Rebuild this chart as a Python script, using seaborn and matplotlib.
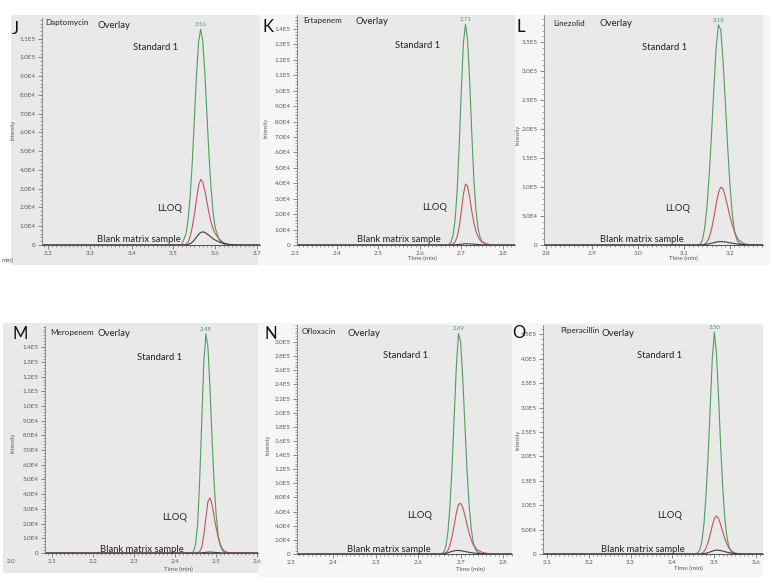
import numpy as np
import pandas as pd
import matplotlib
matplotlib.use("Agg")
import matplotlib.pyplot as plt
import seaborn as sns
from matplotlib.ticker import MultipleLocator, FixedLocator, FuncFormatter, AutoMinorLocator
from matplotlib.patches import Rectangle

# ---------------- data ----------------
j_time = [3.18, 3.50, 3.52, 3.53, 3.535, 3.54, 3.545, 3.55, 3.555, 3.56, 3.565, 3.57, 3.575, 3.58,
          3.585, 3.59, 3.595, 3.60, 3.61, 3.62, 3.63, 3.64, 3.66, 3.72]
j_standard = [0, 0, 200, 6000, 13500, 26000, 44000, 67000, 90000, 108000, 115000, 109000, 92000, 70000,
              48000, 30000, 17000, 9000, 2500, 600, 200, 0, 0, 0]
j_lloq = [0, 0, 0, 300, 1500, 4500, 9500, 16000, 24000, 31500, 35000, 33500, 29000, 23000,
          17000, 12000, 8500, 6000, 3000, 1200, 400, 100, 0, 0]
j_blank = [0, 0, 0, 0, 200, 700, 1500, 2700, 4200, 5600, 6700, 7000, 6700, 6000,
           5100, 4200, 3300, 2600, 1500, 800, 400, 150, 0, 0]

k_time = [2.295, 2.66, 2.67, 2.675, 2.68, 2.685, 2.69, 2.695, 2.70, 2.705, 2.71, 2.715, 2.72, 2.725,
          2.73, 2.735, 2.74, 2.745, 2.75, 2.76, 2.77, 2.78, 2.83]
k_standard = [0, 0, 200, 2000, 6300, 16300, 35600, 65500, 101000, 131000, 143000, 133000, 106000, 73000,
              43000, 23000, 11000, 5000, 2200, 600, 150, 0, 0]
k_lloq = [0, 0, 0, 200, 700, 2000, 5500, 12000, 22000, 33000, 39500, 38000, 31000, 22000,
          14500, 9000, 5500, 3200, 1800, 600, 200, 0, 0]
k_blank = [0, 0, 0, 0, 100, 150, 250, 350, 500, 650, 800, 780, 700, 600,
           500, 400, 300, 220, 150, 60, 20, 0, 0]

l_time = [2.795, 3.12, 3.13, 3.135, 3.14, 3.145, 3.15, 3.155, 3.16, 3.165, 3.17, 3.175, 3.18, 3.185,
          3.19, 3.195, 3.20, 3.205, 3.21, 3.215, 3.22, 3.23, 3.24, 3.275]
l_standard = [0, 0, 0, 1500, 8000, 28000, 65000, 120000, 190000, 268000, 340000, 380000, 372000, 320000,
              248000, 172000, 105000, 55000, 24000, 9000, 3000, 500, 0, 0]
l_lloq = [0, 0, 0, 0, 300, 1500, 5000, 13000, 27000, 47000, 70000, 90000, 100000, 97000,
          84000, 67000, 50000, 35000, 23000, 14000, 8000, 2500, 700, 0]
l_blank = [0, 0, 0, 0, 200, 600, 1200, 2000, 3000, 4000, 5000, 5700, 6000, 5800,
           5300, 4600, 3800, 3100, 2400, 1800, 1300, 700, 300, 0]

m_time = [2.08, 2.43, 2.44, 2.445, 2.45, 2.455, 2.46, 2.465, 2.47, 2.475, 2.48, 2.485, 2.49, 2.495,
          2.50, 2.505, 2.51, 2.515, 2.52, 2.53, 2.54, 2.61]
m_standard = [0, 0, 0, 1000, 6000, 20000, 50000, 90000, 130000, 149000, 140000, 112000, 78000, 48000,
              26000, 12000, 5000, 1800, 500, 0, 0, 0]
m_lloq = [0, 0, 0, 0, 0, 200, 1000, 4000, 12000, 24000, 35000, 37500, 33000, 25000,
          17000, 10500, 6000, 3000, 1300, 200, 0, 0]
m_blank = [0, 0, 0, 0, 0, 0, 50, 150, 300, 450, 550, 600, 550, 450,
           350, 250, 150, 80, 40, 0, 0, 0]

n_time = [2.315, 2.64, 2.65, 2.655, 2.66, 2.665, 2.67, 2.675, 2.68, 2.685, 2.69, 2.695, 2.70, 2.705,
          2.71, 2.715, 2.72, 2.725, 2.73, 2.735, 2.74, 2.75, 2.76, 2.77, 2.78, 2.82]
n_standard = [0, 0, 0, 300, 2500, 10000, 30000, 68000, 125000, 195000, 265000, 312000, 300000, 250000,
              185000, 120000, 70000, 36000, 16000, 6500, 2500, 500, 0, 0, 0, 0]
n_lloq = [0, 0, 0, 0, 300, 1500, 5000, 12500, 25000, 41000, 58000, 70000, 72000, 66000,
          55000, 42000, 30000, 20000, 13000, 8500, 5500, 2500, 1000, 300, 0, 0]
n_blank = [0, 0, 0, 0, 300, 900, 1800, 2800, 3800, 4500, 5000, 5000, 4700, 4200,
           3600, 3000, 2400, 1900, 1500, 1100, 800, 400, 200, 0, 0, 0]

o_time = [3.09, 3.44, 3.45, 3.455, 3.46, 3.465, 3.47, 3.475, 3.48, 3.485, 3.49, 3.495, 3.50, 3.505,
          3.51, 3.515, 3.52, 3.525, 3.53, 3.535, 3.54, 3.545, 3.55, 3.56, 3.57, 3.62]
o_standard = [0, 0, 0, 300, 2000, 8000, 25000, 60000, 120000, 200000, 300000, 400000, 454000, 410000,
              320000, 220000, 135000, 72000, 34000, 14000, 5000, 1500, 400, 0, 0, 0]
o_lloq = [0, 0, 0, 0, 0, 300, 1500, 5000, 12000, 24000, 40000, 58000, 73000, 78000,
          72000, 60000, 45000, 31000, 20000, 12000, 7000, 3800, 1800, 500, 0, 0]
o_blank = [0, 0, 0, 0, 0, 0, 300, 800, 1600, 2800, 4200, 5800, 7200, 8000,
           7800, 7000, 6000, 4800, 3700, 2700, 1900, 1200, 700, 200, 0, 0]

drugs = ["Daptomycin", "Ertapenem", "Linezolid", "Meropenem", "Ofloxacin", "Piperacillin"]
letters = ["J", "K", "L", "M", "N", "O"]
peak_labels = ["3.56", "2.71", "3.18", "2.48", "2.69", "3.50"]
sample_names = ["Standard 1", "LLOQ", "Blank matrix sample"]
y_tick_step = [1e4, 1e4, 5e4, 1e4, 2e4, 5e4]
y_tick_max = [1.1e5, 1.4e5, 3.5e5, 1.4e5, 3.0e5, 4.5e5]

# ---------------- styling ----------------
sns.set_theme(style="white")
plt.rcParams['font.family'] = ['Lato', 'DejaVu Sans']

W, H = 775, 585
fig = plt.figure(figsize=(7.75, 5.85), dpi=100)
fig.patch.set_facecolor("white")

palette = {"Standard 1": "#4f9e5f", "LLOQ": "#c25560", "Blank matrix sample": "#3c3c3c"}
GRAY = "#e9e9e9"
PALE = "#f6f6f6"


def px_text(x, y, s, **kw):
    fig.text(x / W, 1 - y / H, s, **kw)


def sci(v, pos):
    if abs(v) < 1e-9:
        return "0"
    e = int(np.floor(np.log10(abs(v)) + 1e-9))
    return f"{v / 10 ** e:.1f}E{e}"


layout = [
    dict(box=(42, 18, 260, 245), bg=(11, 15, 258, 265), bgc=GRAY, xlim=(3.1856, 3.707), ylim=(0, 1.21e5),
         xt=[3.2, 3.3, 3.4, 3.5, 3.6, 3.7], hang=None, ylab=(13, 130), tlab=None,
         pos=[(12, 29), (45, 23), (97, 25), (133, 47), (157, 208), (97, 240)]),
    dict(box=(297, 15, 515, 245), bg=(258, 15, 515, 265), bgc=PALE, xlim=(2.3048, 2.829), ylim=(0, 1.49e5),
         xt=[2.4, 2.5, 2.6, 2.7, 2.8], hang=2.3, ylab=(266, 128), tlab=(422, 258),
         pos=[(262, 27), (303, 20), (355, 22), (395, 45), (422, 207), (357, 240)]),
    dict(box=(544, 15, 763, 245), bg=(515, 15, 770, 265), bgc=PALE, xlim=(2.7957, 3.272), ylim=(0, 3.97e5),
         xt=[2.8, 2.9, 3.0, 3.1, 3.2], hang=None, ylab=(518, 135), tlab=(683, 258),
         pos=[(516, 27), (553, 24), (600, 24), (642, 47), (665, 208), (600, 240)]),
    dict(box=(45, 326, 258, 553), bg=(3, 323, 258, 573), bgc=GRAY, xlim=(2.083, 2.602), ylim=(0, 1.544e5),
         xt=[2.1, 2.2, 2.3, 2.4, 2.5, 2.6], hang=2.0, ylab=(13, 443), tlab=(178, 569),
         pos=[(12, 334), (50, 332), (97, 334), (137, 357), (162, 517), (100, 549)]),
    dict(box=(297, 325, 512, 554), bg=(258, 323, 512, 577), bgc=PALE, xlim=(2.315, 2.821), ylim=(0, 3.24e5),
         xt=[2.4, 2.5, 2.6, 2.7, 2.8], hang=2.3, ylab=(268, 445), tlab=(470, 569),
         pos=[(264, 334), (302, 332), (347, 333), (383, 356), (407, 516), (347, 549)]),
    dict(box=(543, 325, 763, 554), bg=(512, 323, 763, 577), bgc=PALE, xlim=(3.091, 3.616), ylim=(0, 4.69e5),
         xt=[3.1, 3.2, 3.3, 3.4, 3.5, 3.6], hang=None, ylab=(518, 440), tlab=(688, 568),
         pos=[(512, 333), (560, 330), (601, 333), (637, 356), (657, 516), (601, 549)]),
]

series = [
    (j_time, j_standard, j_lloq, j_blank),
    (k_time, k_standard, k_lloq, k_blank),
    (l_time, l_standard, l_lloq, l_blank),
    (m_time, m_standard, m_lloq, m_blank),
    (n_time, n_standard, n_lloq, n_blank),
    (o_time, o_standard, o_lloq, o_blank),
]

# background panels (behind the axes)
for lay in layout:
    x0, y0, x1, y1 = lay["bg"]
    fig.patches.append(Rectangle((x0 / W, 1 - y1 / H), (x1 - x0) / W, (y1 - y0) / H,
                                 transform=fig.transFigure, facecolor=lay["bgc"], edgecolor="none", zorder=-5))

TICKC = "#5a5a5a"
for i, (lay, (t, s1, lq, bl)) in enumerate(zip(layout, series)):
    l, tp, r, b = lay["box"]
    ax = fig.add_axes([l / W, 1 - b / H, (r - l) / W, (b - tp) / H])
    ax.set_zorder(2)
    ax.set_facecolor(GRAY)
    n = len(t)
    df = pd.DataFrame({
        "Time": list(t) * 3,
        "Intensity": list(s1) + list(lq) + list(bl),
        "Sample": [sample_names[0]] * n + [sample_names[1]] * n + [sample_names[2]] * n,
    })
    sns.lineplot(data=df, x="Time", y="Intensity", hue="Sample", palette=palette,
                 estimator=None, sort=False, legend=False, ax=ax, linewidth=0.8)
    ax.set_xlim(*lay["xlim"])
    ax.set_ylim(*lay["ylim"])
    ax.set_xlabel("")
    ax.set_ylabel("")
    for sp in ["top", "right"]:
        ax.spines[sp].set_visible(False)
    ax.spines["left"].set_color("#808080")
    ax.spines["bottom"].set_color("#505050")
    ax.spines["left"].set_linewidth(0.6)
    ax.spines["bottom"].set_linewidth(0.7)
    step = y_tick_step[i]
    nmaj = int(round(y_tick_max[i] / step))
    ax.yaxis.set_major_locator(FixedLocator([k * step for k in range(nmaj + 1)]))
    ax.yaxis.set_major_formatter(FuncFormatter(sci))
    ax.yaxis.set_minor_locator(MultipleLocator(step / 5))
    ax.set_xticks(lay["xt"])
    ax.set_xticklabels([f"{v:.1f}" for v in lay["xt"]])
    ax.xaxis.set_minor_locator(MultipleLocator(0.01))
    ax.tick_params(which="major", direction="out", length=3, width=0.5, colors=TICKC,
                   labelsize=4.5, pad=1.5, left=True, bottom=True)
    ax.tick_params(which="minor", direction="out", length=1.5, width=0.4, colors=TICKC,
                   left=True, bottom=True)
    if lay["hang"] is not None:
        ax.text(lay["hang"], -0.025, f"{lay['hang']:.1f}", transform=ax.get_xaxis_transform(),
                ha="center", va="top", fontsize=4.5, color=TICKC, clip_on=False)
    k = int(np.argmax(s1))
    ax.annotate(peak_labels[i], (t[k], s1[k]), xytext=(0, 1.5), textcoords="offset points",
                ha="center", va="bottom", fontsize=4.3, color="#4f9e5f", annotation_clip=False)

    pos = lay["pos"]
    px_text(*pos[0], letters[i], fontsize=12, color="#111111", ha="left", va="center", zorder=5)
    px_text(*pos[1], drugs[i], fontsize=5.8, color="#222222", ha="left", va="center", zorder=5)
    px_text(*pos[2], "Overlay", fontsize=6.8, color="#222222", ha="left", va="center", zorder=5)
    px_text(*pos[3], "Standard 1", fontsize=6.8, color="#222222", ha="left", va="center", zorder=5)
    px_text(*pos[4], "LLOQ", fontsize=6.8, color="#222222", ha="left", va="center", zorder=5)
    px_text(*pos[5], "Blank matrix sample", fontsize=6.8, color="#222222", ha="left", va="center", zorder=5)
    px_text(*lay["ylab"], "Intensity", fontsize=3.8, color=TICKC, rotation=90, ha="center", va="center")
    if lay["tlab"] is not None:
        px_text(*lay["tlab"], "Time (min)", fontsize=4.5, color=TICKC, ha="center", va="center")

px_text(1, 260, "min)", fontsize=4.5, color=TICKC, ha="left", va="center")

fig.savefig("out.png", dpi=100)
